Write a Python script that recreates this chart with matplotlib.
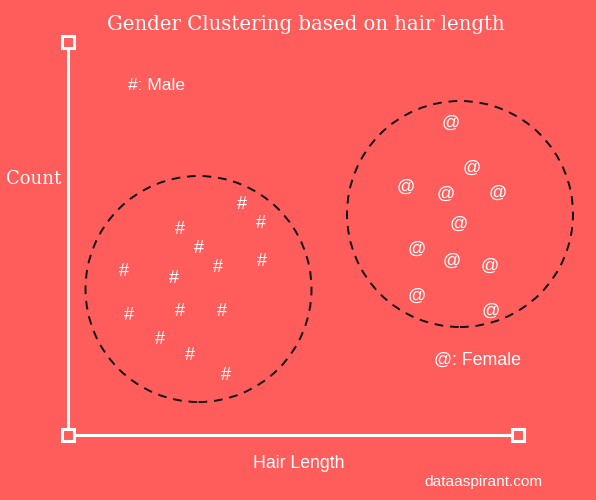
import matplotlib
matplotlib.use("Agg")
import matplotlib.pyplot as plt
import matplotlib.transforms as mtrans
from matplotlib.patches import Circle, Rectangle

# Data (hair length, count) in chart units; origin at axis corner
male_x = [174, 193, 112, 131, 150, 194, 56, 106, 61, 112, 154, 92, 122, 158]
male_y = [233, 214, 208, 189, 170, 176, 166, 159, 122, 126, 126, 98, 82, 62]
female_x = [383, 404, 338, 378, 430, 391, 349, 384, 422, 349, 423]
female_y = [314, 269, 250, 243, 244, 213, 188, 176, 171, 141, 126]
clusters = [(130.5, 146, 113), (392, 221, 113)]

BG = "#FF5C5C"
W = "white"

fig = plt.figure(figsize=(5.96, 5.00), dpi=100, facecolor=BG)
ax = fig.add_axes([0, 0, 1, 1])
ax.set_facecolor(BG)
ax.set_xlim(-68, 528)
ax.set_ylim(-65, 435)
ax.set_aspect("equal")
ax.axis("off")

# axes lines
ax.plot([0, 0], [6, 387], color=W, lw=2.2, solid_capstyle="butt")
ax.plot([6, 444], [0, 0], color=W, lw=2.2, solid_capstyle="butt")
for (cx, cy) in [(0, 393), (0, 0), (450, 0)]:
    ax.add_patch(Rectangle((cx - 6, cy - 6), 12, 12, fill=False, ec=W, lw=2.2))

# clusters
for (cx, cy, r) in clusters:
    ax.add_patch(Circle((cx, cy), r, fill=False, ec="#111111", lw=1.4,
                        linestyle=(0, (4.5, 3.5))))

off = ax.transData + mtrans.ScaledTranslation(0, -1.5 / 72, fig.dpi_scale_trans)
for x, y in zip(male_x, male_y):
    ax.text(x, y, "#", color=W, fontsize=13, ha="center", va="center",
            family="Liberation Sans", transform=off)
for x, y in zip(female_x, female_y):
    ax.text(x, y, "@", color=W, fontsize=13, ha="center", va="center",
            family="Liberation Sans", transform=off)

ax.text(238, 411, "Gender Clustering based on hair length", color=W,
        fontsize=14.2, ha="center", va="center", family="DejaVu Serif")
ax.text(60, 349, "#: Male", color=W, fontsize=12.5, ha="left", va="center",
        family="Liberation Sans")
ax.text(366, 75, "@: Female", color=W, fontsize=12.8, ha="left", va="center",
        family="Liberation Sans")
ax.text(-62, 256, "Count", color=W, fontsize=13, ha="left", va="center",
        family="DejaVu Serif")
ax.text(231, -29, "Hair Length", color=W, fontsize=12.7, ha="center", va="center",
        family="Liberation Sans")
ax.text(356, -47, "dataaspirant.com", color=W, fontsize=11.1, ha="left", va="center",
        family="Liberation Sans")

fig.savefig("out.png", dpi=100, facecolor=BG)
